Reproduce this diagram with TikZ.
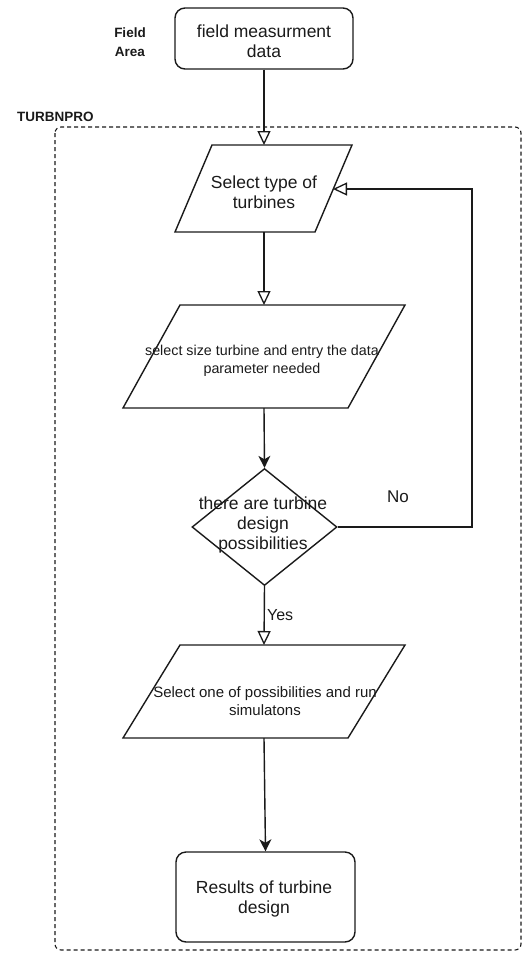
\documentclass[tikz,border=0pt]{standalone}
\usepackage{fontspec}
\setmainfont{Liberation Sans}
\usetikzlibrary{arrows.meta,shapes.geometric}
\definecolor{ink}{HTML}{1A1A1A}
\begin{document}
\begin{tikzpicture}[x=1pt,y=-1pt,line width=1.4pt,draw=ink,text=ink,
  bigtxt/.style={font=\fontsize{17.5}{20}\selectfont,align=center},
  midtxt/.style={font=\fontsize{15}{18}\selectfont,align=center},
  smalltxt/.style={font=\fontsize{14.3}{18}\selectfont,align=center},
  lbl/.style={font=\bfseries\fontsize{13.5}{19}\selectfont,align=center},
  openarrow/.style={-{Triangle[open,width=13pt,length=14pt,line width=1.3pt]}},
  fillarrow/.style={-{Stealth[width=12pt,length=12pt,inset=3.5pt]}},
  roundbox/.style={draw,rounded corners=10pt,minimum width=178pt,minimum height=61pt,inner sep=0pt}]
\useasboundingbox (0,0) rectangle (523,954);

% frame
\draw[line width=1.1pt,dash pattern=on 4pt off 3pt,rounded corners=6pt] (55,127) rectangle (521,950);
\node[lbl,anchor=west] (tp) at (13,117) {TURBNPRO};
\node[lbl] (fa) at (130,42.5) {Field\\Area};

% top box
\node[roundbox] (field) at (264,38.5) {};
\node[bigtxt] (fieldt) at (264,41) {field measurment\\data};

% parallelogram 1
\coordinate (p1tl) at (212,145); \coordinate (p1tr) at (352,145);
\coordinate (p1br) at (315,232); \coordinate (p1bl) at (175,232);
\draw (p1tl) -- (p1tr) -- (p1br) -- (p1bl) -- cycle;
\node[bigtxt] (p1) at (264,192) {Select type of\\turbines};
\coordinate (p1t) at (264,145); \coordinate (p1b) at (264,232); \coordinate (p1r) at (333,189);

% parallelogram 2
\coordinate (p2tl) at (180,305); \coordinate (p2tr) at (405,305);
\coordinate (p2br) at (348,408); \coordinate (p2bl) at (123,408);
\draw (p2tl) -- (p2tr) -- (p2br) -- (p2bl) -- cycle;
\node[smalltxt] (p2) at (262,361) {select size turbine and entry the data\\parameter needed};
\coordinate (p2t) at (264,305); \coordinate (p2b) at (264,408);

% diamond
\node[draw,diamond,minimum width=145pt,minimum height=117pt,inner sep=0pt] (dia) at (264.5,527) {};
\node[bigtxt] (diat) at (263,525) {there are turbine\\design\\possibilities};

% parallelogram 3
\coordinate (p3tl) at (180,645); \coordinate (p3tr) at (405,645);
\coordinate (p3br) at (348,738); \coordinate (p3bl) at (123,738);
\draw (p3tl) -- (p3tr) -- (p3br) -- (p3bl) -- cycle;
\node[midtxt] (p3) at (265,701) {Select one of possibilities and run\\simulatons};
\coordinate (p3t) at (264,645); \coordinate (p3b) at (264,738);

% results
\node[draw,rounded corners=10pt,minimum width=179pt,minimum height=90pt,inner sep=0pt] (res) at (265.5,897) {};
\node[bigtxt] (rest) at (264,899) {Results of turbine\\design};

% connectors
\draw[openarrow] (field.south) -- (p1t);
\draw[openarrow] (p1b) -- (p2t);
\draw[fillarrow] (p2b) -- (dia.north);
\draw[openarrow] (dia.south) -- (p3t);
\draw[fillarrow] (p3b) -- (res.north);
\coordinate (nr) at (472,527); \coordinate (nt) at (472,189);
\draw[openarrow] (dia.east) -- (nr) -- (nt) -- (p1r);

% labels
\node[font=\fontsize{17}{20}\selectfont] (no) at (398,497) {No};
\node[font=\fontsize{16}{20}\selectfont,anchor=west] (yes) at (263,615) {Yes};
\end{tikzpicture}
\end{document}
